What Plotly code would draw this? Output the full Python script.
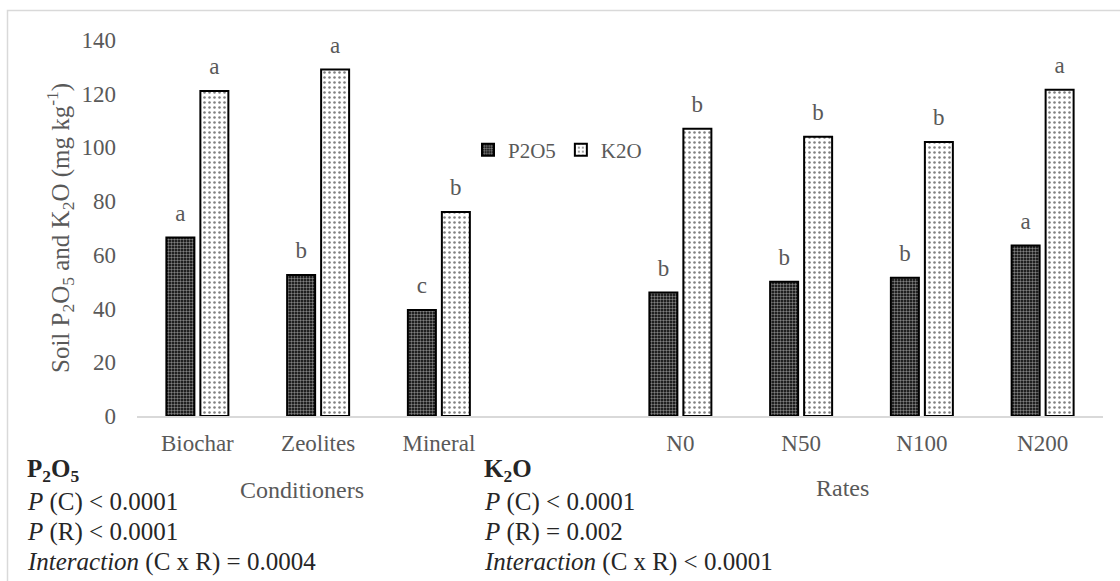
import plotly.graph_objects as go

# Categories (a blank slot separates the conditioners from the N rates)
categories = ["Biochar", "Zeolites", "Mineral", " ", "N0", "N50", "N100", "N200"]

# Soil nutrient contents (mg kg-1)
p2o5_values = [66.5, 52.5, 39.5, None, 46.0, 50.0, 51.5, 63.5]
k2o_values = [121.0, 129.0, 76.0, None, 107.0, 104.0, 102.0, 121.5]

# Mean separation letters
p2o5_letters = ["a", "b", "c", "", "b", "b", "b", "a"]
k2o_letters = ["a", "a", "b", "", "b", "b", "b", "a"]

y_ticks = [0, 20, 40, 60, 80, 100, 120, 140]

W, H = 1120, 581
ML, MR, MT, MB = 137, 17, 40, 165
PW, PH = W - ML - MR, H - MT - MB

SERIF = "Liberation Serif"
GREY = "#595959"
DARK = "#262626"


def px_x(px):
    return (px - ML) / PW


def px_y(py):
    return (H - MB - py) / PH


fig = go.Figure()

fig.add_trace(go.Bar(
    name="P2O5", x=categories, y=p2o5_values, offsetgroup="p",
    marker=dict(
        color="black",
        line=dict(color="black", width=2),
        pattern=dict(shape=".", fgcolor="white", bgcolor="black",
                     size=3, solidity=0.5, fillmode="overlay"),
    ),
    hoverinfo="skip",
))
fig.add_trace(go.Bar(
    name="K2O", x=categories, y=k2o_values, offsetgroup="k",
    marker=dict(
        color="white",
        line=dict(color="black", width=2),
        pattern=dict(shape=".", fgcolor="black", bgcolor="white",
                     size=5, solidity=0.2, fillmode="overlay"),
    ),
    hoverinfo="skip",
))

# Letters above each bar, grouped the same way as the bars
for vals, letters, grp in [(p2o5_values, p2o5_letters, "p"),
                           (k2o_values, k2o_letters, "k")]:
    xs = [c for c, v in zip(categories, vals) if v is not None]
    ys = [v for v in vals if v is not None]
    ts = [t for t, v in zip(letters, vals) if v is not None]
    fig.add_trace(go.Scatter(
        x=xs, y=ys, text=ts, offsetgroup=grp,
        mode="markers+text", textposition="top center",
        marker=dict(size=16, opacity=0),
        textfont=dict(family=SERIF, size=23, color=GREY),
        showlegend=False, hoverinfo="skip", cliponaxis=False,
    ))

annotations = [
    dict(text="Soil P<sub>2</sub>O<sub>5</sub> and K<sub>2</sub>O (mg kg<sup>-1</sup>)",
         x=px_x(60), y=0.5, textangle=-90, font=dict(size=25, color=GREY)),
    dict(text="Conditioners", x=px_x(302), y=px_y(490),
         font=dict(size=24, color=GREY)),
    dict(text="Rates", x=px_x(842), y=px_y(488),
         font=dict(size=24, color=GREY)),
]

stat_blocks = [
    (25, "<b>P<sub>2</sub>O<sub>5</sub></b>",
     ["<i>P</i> (C) < 0.0001", "<i>P</i> (R) < 0.0001",
      "<i>Interaction</i> (C x R) = 0.0004"]),
    (482, "<b>K<sub>2</sub>O</b>",
     ["<i>P</i> (C) < 0.0001", "<i>P</i> (R) = 0.002",
      "<i>Interaction</i> (C x R) < 0.0001"]),
]
for left, head, lines in stat_blocks:
    annotations.append(dict(text=head, x=px_x(left), y=px_y(471),
                            xanchor="left", font=dict(size=25, color=DARK)))
    for i, line in enumerate(lines):
        annotations.append(dict(text=line, x=px_x(left), y=px_y(502 + 30 * i),
                                xanchor="left", font=dict(size=25, color=DARK)))

for a in annotations:
    a.update(xref="paper", yref="paper", showarrow=False,
             yanchor=a.get("yanchor", "middle"),
             xanchor=a.get("xanchor", "center"))
    a["font"]["family"] = SERIF

fig.update_layout(
    width=W, height=H,
    margin=dict(l=ML, r=MR, t=MT, b=MB),
    paper_bgcolor="white", plot_bgcolor="white",
    barmode="group", bargap=0.437, bargroupgap=0.176,
    scattermode="group",
    font=dict(family=SERIF, size=22, color=GREY),
    xaxis=dict(
        type="category", categoryorder="array", categoryarray=categories,
        showline=True, linecolor="#d9d9d9", linewidth=1.5,
        showgrid=False, zeroline=False, ticks="",
        tickfont=dict(family=SERIF, size=23, color=GREY),
        ticklabelstandoff=6,
    ),
    yaxis=dict(
        range=[0, 140], tickvals=y_ticks, showgrid=False, zeroline=False,
        showline=False, ticks="",
        tickfont=dict(family=SERIF, size=23, color=GREY),
        ticklabelstandoff=20,
    ),
    legend=dict(
        orientation="h", x=px_x(468), y=px_y(150), xanchor="left", yanchor="middle",
        font=dict(family=SERIF, size=21, color=GREY),
        bgcolor="rgba(0,0,0,0)", itemwidth=30,
    ),
    annotations=annotations,
    shapes=[dict(type="rect", xref="paper", yref="paper",
                 x0=px_x(7.5), x1=px_x(1135), y0=px_y(600), y1=px_y(10.5),
                 line=dict(color="#d9d9d9", width=1.5), layer="below")],
)

fig.write_html("out.html")
